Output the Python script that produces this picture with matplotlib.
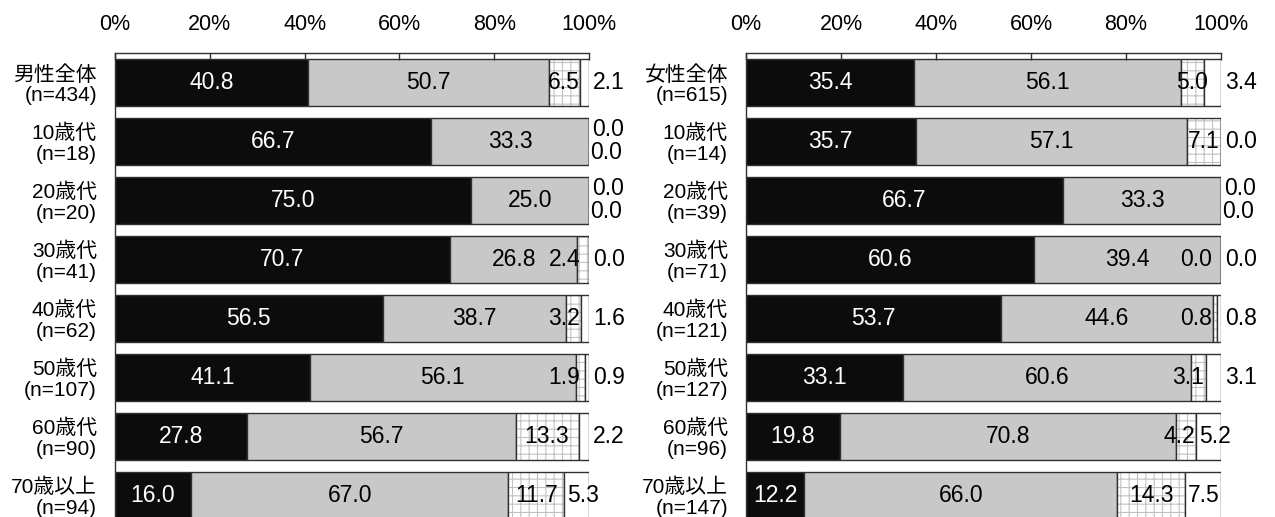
import numpy as np
import matplotlib
matplotlib.use("Agg")
import matplotlib.pyplot as plt

plt.rcParams['font.family'] = ['Liberation Sans', 'Noto Sans CJK JP']
plt.rcParams['hatch.linewidth'] = 0.8

# male panel
m_labels = ['男性全体\n(n=434)', '10歳代\n(n=18)', '20歳代\n(n=20)', '30歳代\n(n=41)',
            '40歳代\n(n=62)', '50歳代\n(n=107)', '60歳代\n(n=90)', '70歳以上\n(n=94)']
m1 = [40.8, 66.7, 75.0, 70.7, 56.5, 41.1, 27.8, 16.0]
m2 = [50.7, 33.3, 25.0, 26.8, 38.7, 56.1, 56.7, 67.0]
m3 = [6.5, 0.0, 0.0, 2.4, 3.2, 1.9, 13.3, 11.7]
m4 = [2.1, 0.0, 0.0, 0.0, 1.6, 0.9, 2.2, 5.3]

# female panel
f_labels = ['女性全体\n(n=615)', '10歳代\n(n=14)', '20歳代\n(n=39)', '30歳代\n(n=71)',
            '40歳代\n(n=121)', '50歳代\n(n=127)', '60歳代\n(n=96)', '70歳以上\n(n=147)']
f1 = [35.4, 35.7, 66.7, 60.6, 53.7, 33.1, 19.8, 12.2]
f2 = [56.1, 57.1, 33.3, 39.4, 44.6, 60.6, 70.8, 66.0]
f3 = [5.0, 7.1, 0.0, 0.0, 0.8, 3.1, 4.2, 14.3]
f4 = [3.4, 0.0, 0.0, 0.0, 0.8, 3.1, 5.2, 7.5]

ticks = [0, 20, 40, 60, 80, 100]
tick_labels = ['0%', '20%', '40%', '60%', '80%', '100%']

# rows where the two zero labels are stacked outside the bar
m_stacked = [1, 2]
f_stacked = [2]

W, H = 1275, 517
fig = plt.figure(figsize=(W / 100, H / 100), dpi=100)

edge = '#303030'
vsize = 16.5


def panel(rect, labels, s1, s2, s3, s4, stacked):
    ax = fig.add_axes(rect)
    y = np.arange(len(labels))
    s1, s2, s3, s4 = map(np.array, (s1, s2, s3, s4))
    h = 0.8
    ax.barh(y, s1, height=h, color='#0c0c0c', edgecolor=edge, linewidth=1)
    ax.barh(y, s2, left=s1, height=h, color='#c8c8c8', edgecolor=edge, linewidth=1)
    ax.barh(y, s3, left=s1 + s2, height=h, color='white', edgecolor='#c2c2c2',
            linewidth=0, hatch='++')
    ax.barh(y, s3, left=s1 + s2, height=h, fill=False, edgecolor=edge, linewidth=1)
    ax.barh(y, s4, left=s1 + s2 + s3, height=h, color='white', edgecolor=edge, linewidth=1)

    kw = dict(va='center', fontsize=vsize, clip_on=False)
    for i in y:
        ax.text(s1[i] / 2, i, f'{s1[i]:.1f}', color='white', ha='center', **kw)
        ax.text(s1[i] + s2[i] / 2, i, f'{s2[i]:.1f}', ha='center', **kw)
        end3 = s1[i] + s2[i] + s3[i]
        if i in stacked:
            ax.text(100.6, i - 0.19, f'{s3[i]:.1f}', ha='left', **kw)
            ax.text(100.2, i + 0.19, f'{s4[i]:.1f}', ha='left', **kw)
            continue
        if s3[i] >= 5:
            ax.text(end3 - s3[i] / 2, i, f'{s3[i]:.1f}', ha='center', **kw)
        else:
            ax.text(min(end3 - 0.3, 98.2), i, f'{s3[i]:.1f}', ha='right', **kw)
        if s4[i] >= 5:
            ax.text(end3 + 0.6, i, f'{s4[i]:.1f}', ha='left', **kw)
        else:
            ax.text(100.9, i, f'{s4[i]:.1f}', ha='left', **kw)

    ax.set_xlim(0, 100)
    ax.set_ylim(7.37, -0.5)
    ax.xaxis.tick_top()
    ax.set_xticks(ticks)
    ax.set_xticklabels(tick_labels)
    ax.tick_params(axis='x', direction='in', length=5, width=1, color=edge,
                   labelsize=15.5, pad=13)
    ax.set_yticks(y)
    ax.set_yticklabels(labels, fontsize=15, linespacing=1.1)
    ax.tick_params(axis='y', length=0, pad=13)
    for t in ax.get_yticklabels():
        t.set_verticalalignment('center_baseline')
    for s in ('right', 'bottom'):
        ax.spines[s].set_visible(False)
    for s in ('top', 'left'):
        ax.spines[s].set_color(edge)
        ax.spines[s].set_linewidth(1)
    return ax


top = 1 - 52.7 / H
panel([115 / W, 0, 474 / W, top], m_labels, m1, m2, m3, m4, m_stacked)
panel([746 / W, 0, 475 / W, top], f_labels, f1, f2, f3, f4, f_stacked)

fig.savefig('out.png', dpi=100)
